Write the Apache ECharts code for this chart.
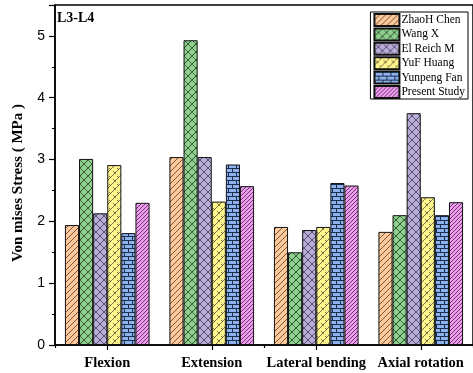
<!DOCTYPE html>
<html>
<head>
<meta charset="utf-8">
<script src="https://cdn.jsdelivr.net/npm/echarts@6/dist/echarts.min.js"></script>
<style>
html,body{margin:0;padding:0;background:#fff;}
#chart{width:473px;height:373px;}
</style>
</head>
<body>
<div id="chart"></div>
<script>
// ---- data ----
const categories = ['Flexion', 'Extension', 'Lateral bending', 'Axial rotation'];
const seriesNames = ['ZhaoH Chen', 'Wang X', 'El Reich M', 'YuF Huang', 'Yunpeng Fan', 'Present Study'];
const zhaohChen   = [1.94, 3.04, 1.91, 1.83];
const wangX       = [3.01, 4.93, 1.50, 2.10];
const elReichM    = [2.13, 3.04, 1.86, 3.75];
const yufHuang    = [2.91, 2.32, 1.91, 2.39];
const yunpengFan  = [1.81, 2.92, 2.62, 2.10];
const presentStudy= [2.30, 2.57, 2.58, 2.31];
const yTicks = [0, 1, 2, 3, 4, 5];
const panelLabel = 'L3-L4';
const yTitle = 'Von mises Stress ( MPa )';

// ---- patterns ----
function tile(w, h, bg, draw) {
  const c = document.createElement('canvas');
  c.width = w; c.height = h;
  const ctx = c.getContext('2d');
  ctx.fillStyle = bg; ctx.fillRect(0, 0, w, h);
  draw(ctx, w, h);
  return { image: c, repeat: 'repeat' };
}
function line(ctx, x1, y1, x2, y2) { ctx.beginPath(); ctx.moveTo(x1, y1); ctx.lineTo(x2, y2); ctx.stroke(); }
function fwd(ctx, s) { line(ctx, -1, s + 1, s + 1, -1); line(ctx, -1, 1, 1, -1); line(ctx, s - 1, s + 1, s + 1, s - 1); }
function back(ctx, s) { line(ctx, -1, -1, s + 1, s + 1); line(ctx, s - 1, -1, s + 1, 1); line(ctx, -1, s - 1, 1, s + 1); }

const patterns = [
  tile(6, 6, '#FFC898', (ctx, w) => { ctx.strokeStyle = '#4a3a2c'; ctx.lineWidth = 0.8; fwd(ctx, w); }),
  tile(8, 8, '#8FD18F', (ctx, w) => { ctx.strokeStyle = '#2a452a'; ctx.lineWidth = 1; fwd(ctx, w); ctx.lineWidth = 0.7; back(ctx, w); }),
  tile(8, 8, '#BBAEDA', (ctx, w) => { ctx.strokeStyle = '#3a3450'; ctx.lineWidth = 0.8; fwd(ctx, w); back(ctx, w); }),
  tile(8, 8, '#FFF58C', (ctx, w) => {
    ctx.strokeStyle = '#55502c'; ctx.lineWidth = 0.8; fwd(ctx, w);
    line(ctx, 1, 3, 4, 6); line(ctx, 5, 0, 7, 2);
  }),
  tile(8, 8, '#8DB3EF', (ctx) => {
    ctx.strokeStyle = '#1c2c4e'; ctx.lineWidth = 1;
    line(ctx, 0, 0.5, 8, 0.5); line(ctx, 0, 4.5, 8, 4.5);
    line(ctx, 0.5, 0, 0.5, 4.5); line(ctx, 4.5, 4.5, 4.5, 8);
  }),
  tile(4, 4, '#EA9FEA', (ctx) => {
    ctx.fillStyle = '#7a2f7a';
    ctx.fillRect(0, 0, 1, 1); ctx.fillRect(2, 2, 1, 1); ctx.fillRect(1, 3, 1, 1); ctx.fillRect(3, 1, 1, 1);
  })
];

const values = [zhaohChen, wangX, elReichM, yufHuang, yunpengFan, presentStudy];

const chart = echarts.init(document.getElementById('chart'), null, { renderer: 'canvas' });
chart.setOption({
  animation: false,
  backgroundColor: '#fff',
  title: {
    text: panelLabel, left: 57, top: 11, padding: 0,
    textStyle: { fontFamily: 'Liberation Serif', fontWeight: 'bold', fontSize: 14, color: '#000' }
  },
  legend: {
    data: seriesNames,
    orient: 'vertical',
    right: 5, top: 12,
    itemWidth: 25, itemHeight: 12, itemGap: 0.4,
    padding: [1, 3, 0, 3],
    borderColor: '#000', borderWidth: 1,
    icon: 'rect',
    textStyle: { fontFamily: 'Liberation Serif', fontSize: 11.5, lineHeight: 12, color: '#000', padding: [0, 0, 0, -3] }
  },
  grid: { left: 55, top: 5, width: 420, bottom: 28, show: true, borderColor: '#000', borderWidth: 1.5 },
  xAxis: [{
    type: 'category', data: categories,
    axisLine: { lineStyle: { color: '#000', width: 1.5 } },
    axisTick: { show: true, alignWithLabel: true, length: 5, lineStyle: { color: '#000', width: 1.2 } },
    axisLabel: { margin: 11, color: '#000', fontFamily: 'Liberation Serif', fontWeight: 'bold', fontSize: 14.5, interval: 0 }
  }, {
    type: 'category', data: categories, position: 'bottom',
    axisLine: { show: false },
    axisTick: { show: true, length: 3, lineStyle: { color: '#000', width: 1.2 } },
    axisLabel: { show: false }
  }],
  yAxis: {
    type: 'value', min: yTicks[0], max: 5.5, interval: 1,
    name: yTitle, nameLocation: 'middle', nameGap: 29, nameRotate: 90,
    nameTextStyle: { fontFamily: 'Liberation Serif', fontWeight: 'bold', fontSize: 15, color: '#000', padding: [0, 16, 0, 0] },
    axisLine: { show: true, lineStyle: { color: '#000', width: 1.5 } },
    axisTick: { show: true, length: 6, lineStyle: { color: '#000', width: 1.2 } },
    minorTick: { show: true, splitNumber: 2, length: 3, lineStyle: { color: '#000', width: 1 } },
    splitLine: { show: false },
    axisLabel: { margin: 10, color: '#000', fontFamily: 'Liberation Sans', fontSize: 14, showMaxLabel: false }
  },
  series: seriesNames.map((n, i) => ({
    name: n, type: 'bar', data: values[i], xAxisIndex: 0,
    barGap: '0%', barCategoryGap: '19%',
    itemStyle: { color: patterns[i], borderColor: '#111', borderWidth: 1 }
  }))
});
</script>
</body>
</html>
